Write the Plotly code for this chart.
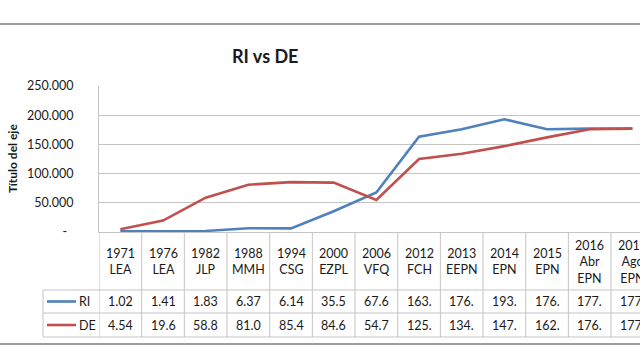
import plotly.graph_objects as go

categories = ["1971<br>LEA", "1976<br>LEA", "1982<br>JLP", "1988<br>MMH", "1994<br>CSG",
              "2000<br>EZPL", "2006<br>VFQ", "2012<br>FCH", "2013<br>EEPN", "2014<br>EPN",
              "2015<br>EPN", "2016<br>Abr<br>EPN", "2017<br>Ago<br>EPN"]
ri_values = [1020, 1410, 1830, 6370, 6140, 35500, 67600, 163000, 176000, 193000, 176000, 177000, 177000]
de_values = [4540, 19600, 58800, 81000, 85400, 84600, 54700, 125000, 134000, 147000, 162000, 176000, 177000]
y_tick_vals = [0, 50000, 100000, 150000, 200000, 250000]
y_tick_text = ["-\u00a0\u00a0", "50.000", "100.000", "150.000", "200.000", "250.000"]
series_names = ["RI", "DE"]
series_colors = ["#4F81BD", "#C0504D"]

W, H = 640, 360
FONT = "Lato"
TXT = "#1a1a1a"
GRID = "#C4C4C4"


def py(p):
    return 1 - p / H


def cell_text(v):
    return f"{v:,}".replace(",", ".")[:4]


idx = list(range(len(categories)))
fig = go.Figure()
for name, vals, col in zip(series_names, [ri_values, de_values], series_colors):
    fig.add_trace(go.Scatter(x=idx, y=vals, mode="lines", name=name,
                             line=dict(color=col, width=2.6), showlegend=False,
                             cliponaxis=False))

x_left_px = 99
col_w = 42.67
x_max = -0.5 + (W - x_left_px) / col_w

fig.update_layout(
    template="none",
    width=W, height=H,
    autosize=False,
    margin=dict(l=0, r=0, t=0, b=0, pad=0, autoexpand=False),
    paper_bgcolor="white", plot_bgcolor="white",
    showlegend=False,
    font=dict(family=FONT, size=12.5, color=TXT),
    xaxis=dict(domain=[x_left_px / W, 1], range=[-0.5, x_max], showgrid=False,
               zeroline=False, showticklabels=False, showline=True, automargin=False,
               linecolor=GRID, linewidth=1, ticks=""),
    yaxis=dict(domain=[py(232), py(86)], range=[0, 250000], tickvals=y_tick_vals,
               ticktext=y_tick_text, showgrid=True, gridcolor=GRID, gridwidth=1,
               zeroline=False, showline=True, linecolor=GRID, linewidth=1,
               ticks="", ticklabelstandoff=22, automargin=False,
               tickfont=dict(family=FONT, size=12.5, color=TXT)),
)

shapes = []
annotations = []

# outer chart frame (top and bottom edges visible in the crop), drawn as thin filled bands
for yp in [24, 344]:
    shapes.append(dict(type="rect", xref="paper", yref="paper", x0=0, x1=1,
                       y0=py(yp + 1), y1=py(yp - 1), layer="above",
                       fillcolor="#9C9C9C", line=dict(width=0)))

row_lines = [290, 313, 337]
for yp in row_lines:
    shapes.append(dict(type="line", xref="paper", yref="paper", x0=43 / W, x1=1,
                       y0=py(yp), y1=py(yp), line=dict(color=GRID, width=1)))
shapes.append(dict(type="line", xref="paper", yref="paper", x0=43 / W, x1=43 / W,
                   y0=py(290), y1=py(337), line=dict(color=GRID, width=1)))
for i in range(len(categories) + 1):
    shapes.append(dict(type="line", xref="x", yref="paper", x0=i - 0.5, x1=i - 0.5,
                       y0=py(232), y1=py(337), line=dict(color=GRID, width=1)))

for i, c in enumerate(categories):
    annotations.append(dict(x=i, y=py(261.5), xref="x", yref="paper", text=c,
                            showarrow=False, font=dict(family=FONT, size=12.5, color=TXT),
                            xanchor="center", yanchor="middle", align="center"))

row_centers = [301.5, 325]
for (name, vals, col), yc in zip(zip(series_names, [ri_values, de_values], series_colors), row_centers):
    shapes.append(dict(type="line", xref="paper", yref="paper", x0=47 / W, x1=76 / W,
                       y0=py(yc), y1=py(yc), line=dict(color=col, width=2.6)))
    annotations.append(dict(x=77 / W, y=py(yc), xref="paper", yref="paper", text=name,
                            showarrow=False, xanchor="left", yanchor="middle",
                            font=dict(family=FONT, size=12.5, color=TXT)))
    for i, v in enumerate(vals):
        annotations.append(dict(x=i, y=py(yc), xref="x", yref="paper", text=cell_text(v),
                                showarrow=False, xanchor="center", yanchor="middle",
                                font=dict(family=FONT, size=12.5, color=TXT)))

annotations.append(dict(x=265 / W, y=py(56), xref="paper", yref="paper",
                        text="<b>RI vs DE</b>", showarrow=False, xanchor="center",
                        yanchor="middle", font=dict(family=FONT, size=18, color=TXT)))
annotations.append(dict(x=12 / W, y=py(159), xref="paper", yref="paper",
                        text="<b>Título del eje</b>", showarrow=False, textangle=-90,
                        xanchor="center", yanchor="middle",
                        font=dict(family=FONT, size=12, color=TXT)))

fig.update_layout(shapes=shapes, annotations=annotations)
fig.write_html("out.html", config={"displayModeBar": False},
               post_script="document.body.style.margin='0px';")
